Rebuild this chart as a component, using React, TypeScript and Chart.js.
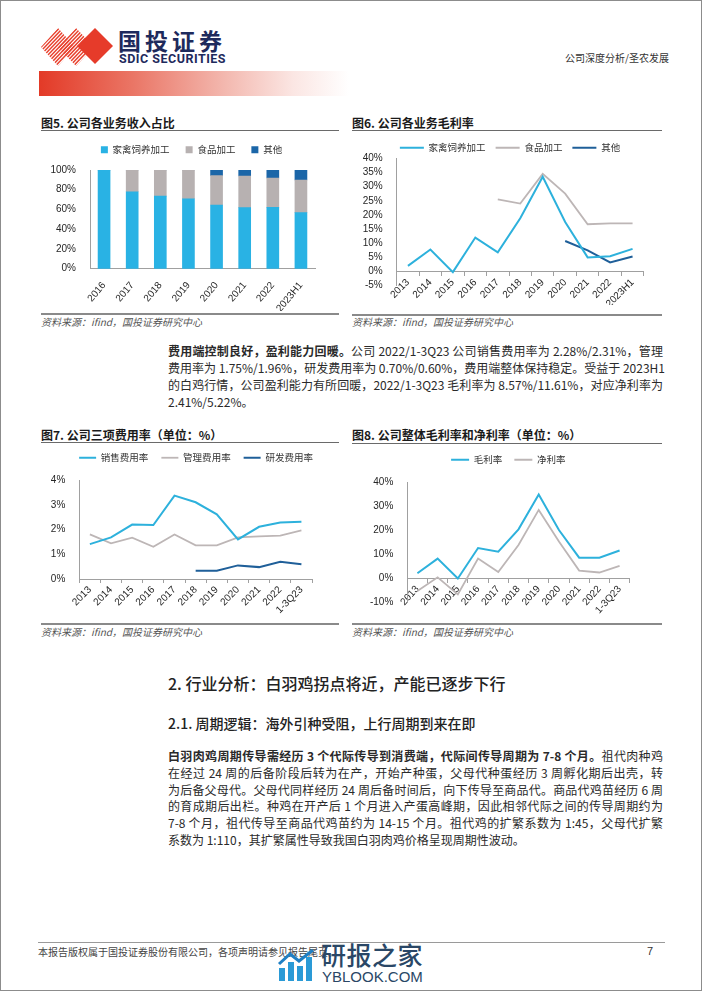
import React, { useEffect, useRef } from 'react';
import { Chart, registerables } from 'chart.js';

Chart.register(...registerables);

const CJK = "'Noto Sans CJK SC', 'Noto Sans', sans-serif";
const LATIN = "'Liberation Sans', Arial, sans-serif";
Chart.defaults.font.family = LATIN;

// ---------------- data ----------------
// Fig 5: revenue share by business (%)
const fig5Labels = ['2016', '2017', '2018', '2019', '2020', '2021', '2022', '2023H1'];
const fig5Poultry = [100, 78, 73.6, 70.9, 64.5, 61.8, 62.2, 56.8];
const fig5Food = [0, 22, 26.4, 29.1, 29.8, 32.1, 29.7, 33.1];
const fig5Other = [0, 0, 0, 0, 5.7, 6.1, 8.1, 10.1];

// Fig 6: gross margin by business (%)
const fig6Labels = ['2013', '2014', '2015', '2016', '2017', '2018', '2019', '2020', '2021', '2022', '2023H1'];
const fig6Poultry = [2, 7.8, -0.2, 12, 6.8, 18.8, 33.5, 17.5, 5, 5.4, 8];
const fig6Food = [null, null, null, null, 25.5, 24, 34.5, 27.5, 16.7, 17, 17];
const fig6Other = [null, null, null, null, null, null, null, 10.8, 7.5, 3.2, 5.3];

// Fig 7: expense ratios (%)
const fig7Labels = ['2013', '2014', '2015', '2016', '2017', '2018', '2019', '2020', '2021', '2022', '1-3Q23'];
const fig7Sales = [1.41, 1.68, 2.2, 2.18, 3.37, 3.1, 2.61, 1.6, 2.11, 2.28, 2.31];
const fig7Admin = [1.8, 1.44, 1.67, 1.3, 1.8, 1.36, 1.36, 1.68, 1.72, 1.75, 1.96];
const fig7RD = [null, null, null, null, null, 0.33, 0.33, 0.55, 0.48, 0.7, 0.6];

// Fig 8: gross & net margin (%)
const fig8Labels = ['2013', '2014', '2015', '2016', '2017', '2018', '2019', '2020', '2021', '2022', '1-3Q23'];
const fig8Gross = [2.1, 8.2, -0.1, 12.6, 11.1, 20.4, 34.9, 20.1, 8.6, 8.57, 11.61];
const fig8Net = [-5.3, 0.4, -6.7, 8.2, 2.6, 13.9, 28.5, 15.3, 3.2, 2.41, 5.22];

// ---------------- styles ----------------
const LIGHT_BLUE = '#29B2E4';
const LINE_BLUE = '#2DB1DC';
const BAR_GRAY = '#B7B1B1';
const LINE_GRAY = '#BDB6B6';
const DARK_BLUE = '#1B66A8';
const LINE_DARK = '#1F5F99';
const AXIS_COLOR = '#A0A0A0';
const TICK_COLOR = '#262626';
const TICK_FONT = { family: LATIN, size: 10 };
const LEGEND_FONT = { family: CJK, size: 9.5 };

function legendTweak(gap: number, dx: number) {
  return {
    id: 'legendTweak',
    beforeUpdate(chart: any) {
      const lg = chart.legend;
      if (lg && !lg.__tweaked) {
        const fit = lg.fit;
        lg.fit = function () {
          fit.call(this);
          this.height += gap;
        };
        lg.__tweaked = true;
      }
    },
    afterLayout(chart: any) {
      const lg = chart.legend;
      if (lg) {
        lg.left += dx;
        lg.right += dx;
      }
    },
  };
}

const pct = (v: any) => v + '%';

function yAxis(min: number, max: number, step: number, width: number) {
  return {
    min,
    max,
    grid: { display: false },
    border: { display: true, color: AXIS_COLOR, width: 1 },
    ticks: { stepSize: step, autoSkip: false, callback: pct, font: TICK_FONT, color: TICK_COLOR, padding: 6 },
    afterFit: (s: any) => {
      s.width = width;
    },
  };
}

function xCatAxis(rotation: number, extra: any) {
  return {
    type: 'category',
    offset: true,
    grid: { display: true, drawOnChartArea: false, drawTicks: true, tickLength: 4, offset: true, color: AXIS_COLOR },
    border: { display: true, color: AXIS_COLOR, width: 1 },
    ticks: { font: TICK_FONT, color: TICK_COLOR, minRotation: rotation, maxRotation: rotation, autoSkip: false, padding: 1 },
    ...extra,
  };
}

function lineDs(label: string, data: any[], color: string, width = 2) {
  return {
    label,
    data,
    borderColor: color,
    backgroundColor: color,
    borderWidth: width,
    pointRadius: 0,
    tension: 0,
    fill: false,
  };
}

function lineLegend(pointStyleWidth: number, padding: number) {
  return {
    position: 'top',
    labels: {
      usePointStyle: true,
      pointStyle: 'line',
      pointStyleWidth,
      padding,
      font: LEGEND_FONT,
      color: '#333',
    },
  };
}

const makeFig5 = () => ({
  type: 'bar',
  data: {
    labels: fig5Labels,
    datasets: [
      { label: '家禽饲养加工', data: fig5Poultry, backgroundColor: LIGHT_BLUE, barThickness: 12 },
      { label: '食品加工', data: fig5Food, backgroundColor: BAR_GRAY, barThickness: 12 },
      { label: '其他', data: fig5Other, backgroundColor: DARK_BLUE, barThickness: 12 },
    ],
  },
  options: {
    responsive: false,
    animation: false,
    layout: { padding: { top: 0, left: 0, right: 25, bottom: 0 } },
    plugins: {
      legend: {
        position: 'top',
        labels: { boxWidth: 7, boxHeight: 7, padding: 16, font: LEGEND_FONT, color: '#333' },
      },
      tooltip: { enabled: false },
    },
    scales: {
      x: {
        stacked: true,
        grid: { display: false },
        border: { display: true, color: AXIS_COLOR, width: 1 },
        ticks: { font: TICK_FONT, color: TICK_COLOR, minRotation: 50, maxRotation: 50, autoSkip: false, padding: 3 },
        afterFit: (s: any) => {
          s.height = 42.3;
        },
      },
      y: { ...yAxis(0, 100, 20, 50), stacked: true },
    },
  },
  plugins: [legendTweak(5.5, 14)],
});

const makeFig6 = () => ({
  type: 'line',
  data: {
    labels: fig6Labels,
    datasets: [
      lineDs('家禽饲养加工', fig6Poultry, LINE_BLUE),
      lineDs('食品加工', fig6Food, LINE_GRAY, 1.8),
      lineDs('其他', fig6Other, LINE_DARK),
    ],
  },
  options: {
    responsive: false,
    animation: false,
    layout: { padding: { top: 0, left: 0, right: 21.2, bottom: 19.3 } },
    plugins: { legend: lineLegend(24, 10), tooltip: { enabled: false } },
    scales: {
      x: xCatAxis(45, { position: { y: 0 } }),
      y: yAxis(-5, 40, 5, 41.7),
    },
  },
  plugins: [legendTweak(-4.2, 10.6)],
});

const makeFig7 = () => ({
  type: 'line',
  data: {
    labels: fig7Labels,
    datasets: [
      lineDs('销售费用率', fig7Sales, LINE_BLUE),
      lineDs('管理费用率', fig7Admin, LINE_GRAY, 1.8),
      lineDs('研发费用率', fig7RD, LINE_DARK),
    ],
  },
  options: {
    responsive: false,
    animation: false,
    layout: { padding: { top: 0, left: 0, right: 28, bottom: 0 } },
    plugins: { legend: lineLegend(17, 13), tooltip: { enabled: false } },
    scales: {
      x: xCatAxis(45, {
        afterFit: (s: any) => {
          s.height = 39;
        },
      }),
      y: yAxis(0, 4, 1, 39.3),
    },
  },
  plugins: [legendTweak(7.5, 20)],
});

const makeFig8 = () => ({
  type: 'line',
  data: {
    labels: fig8Labels,
    datasets: [lineDs('毛利率', fig8Gross, LINE_BLUE), lineDs('净利率', fig8Net, LINE_GRAY, 1.8)],
  },
  options: {
    responsive: false,
    animation: false,
    layout: { padding: { top: 0, left: 0, right: 35.3, bottom: 19.7 } },
    plugins: { legend: lineLegend(18, 12), tooltip: { enabled: false } },
    scales: {
      x: xCatAxis(48, { position: { y: 0 } }),
      y: yAxis(-10, 40, 10, 52.3),
    },
  },
  plugins: [legendTweak(7.8, 16)],
});

function ChartBox({ x, y, w, h, make }: { x: number; y: number; w: number; h: number; make: () => any }) {
  const ref = useRef<HTMLCanvasElement>(null);
  useEffect(() => {
    const chart = new Chart(ref.current as HTMLCanvasElement, make());
    return () => chart.destroy();
  }, []);
  return (
    <canvas
      ref={ref}
      width={w}
      height={h}
      style={{ position: 'absolute', left: x, top: y, width: w, height: h }}
    />
  );
}

function Txt({ x, y, size, children, style }: { x: number; y: number; size: number; children: any; style?: any }) {
  const lh = Math.round(size * 1.5);
  return (
    <div
      style={{
        position: 'absolute',
        left: x,
        top: y - lh / 2,
        fontSize: size,
        lineHeight: lh + 'px',
        whiteSpace: 'nowrap',
        fontFamily: CJK,
        color: '#222',
        ...style,
      }}
    >
      {children}
    </div>
  );
}

function HLine({ x, y, w, h, color }: { x: number; y: number; w: number; h: number; color: string }) {
  return <div style={{ position: 'absolute', left: x, top: y - h / 2, width: w, height: h, background: color }} />;
}

function FigFrame({ x, w, titleY, lineY, bottomY, srcY, title }: any) {
  return (
    <>
      <Txt x={x} y={titleY} size={12} style={{ fontWeight: 700, color: '#1a1a1a' }}>
        {title}
      </Txt>
      <HLine x={x} y={lineY} w={w} h={1} color="#6a6a6a" />
      <HLine x={x} y={bottomY} w={w} h={2} color="#8a8a8a" />
      <Txt x={x} y={srcY} size={10} style={{ fontStyle: 'italic', color: '#555' }}>
        资料来源：ifind，国投证券研究中心
      </Txt>
    </>
  );
}

function ParaLine({ y, last, children }: { y: number; last?: boolean; children: any }) {
  return (
    <div
      style={{
        position: 'absolute',
        left: 168,
        top: y - 9,
        width: 495,
        height: 18,
        lineHeight: '18px',
        fontSize: 12,
        fontFamily: CJK,
        color: '#2a2a2a',
        whiteSpace: 'nowrap',
        textAlign: 'justify',
        textAlignLast: last ? 'left' : 'justify',
      }}
    >
      {children}
    </div>
  );
}

const para1 = [
  <>
    <b>费用端控制良好，盈利能力回暖。</b>公司 2022/1-3Q23 公司销售费用率为 2.28%/2.31%，管理
  </>,
  <>费用率为 1.75%/1.96%，研发费用率为 0.70%/0.60%，费用端整体保持稳定。受益于 2023H1</>,
  <>的白鸡行情，公司盈利能力有所回暖，2022/1-3Q23 毛利率为 8.57%/11.61%，对应净利率为</>,
  <>2.41%/5.22%。</>,
];

const para2 = [
  <>
    <b>白羽肉鸡周期传导需经历 3 个代际传导到消费端，代际间传导周期为 7-8 个月。</b>祖代肉种鸡
  </>,
  <>在经过 24 周的后备阶段后转为在产，开始产种蛋，父母代种蛋经历 3 周孵化期后出壳，转</>,
  <>为后备父母代。父母代同样经历 24 周后备时间后，向下传导至商品代。商品代鸡苗经历 6 周</>,
  <>的育成期后出栏。种鸡在开产后 1 个月进入产蛋高峰期，因此相邻代际之间的传导周期约为</>,
  <>7-8 个月，祖代传导至商品代鸡苗约为 14-15 个月。祖代鸡的扩繁系数为 1:45，父母代扩繁</>,
  <>系数为 1:110，其扩繁属性导致我国白羽肉鸡价格呈现周期性波动。</>,
];

function Logo() {
  const stripes: any[] = [];
  for (let i = -20; i < 40; i++) {
    const x0 = 30 + i * 3.6;
    stripes.push(<line key={i} x1={x0} y1={70} x2={x0 + 44} y2={24} stroke="#E8402D" strokeWidth={1.5} />);
  }
  return (
    <svg width={80} height={48} viewBox="38 22 80 48" style={{ position: 'absolute', left: 38, top: 22 }}>
      <defs>
        <clipPath id="dA">
          <polygon points="41,47 58,28 75,47 58,66" />
        </clipPath>
        <clipPath id="dB">
          <polygon points="58,47 76,28 94,47 76,66" />
        </clipPath>
      </defs>
      <g clipPath="url(#dA)">{stripes}</g>
      <g clipPath="url(#dB)">{stripes}</g>
      <polygon points="77,46 95,28 113,46 95,64" fill="#E63B2A" />
    </svg>
  );
}

function Watermark() {
  return (
    <>
      <svg width={42} height={34} style={{ position: 'absolute', left: 277, top: 948 }}>
        <rect x={2} y={20} width={6} height={13} fill="#2A9AD6" />
        <rect x={11} y={14} width={6} height={19} fill="#2A9AD6" />
        <rect x={20} y={18} width={6} height={15} fill="#2A9AD6" />
        <rect x={29} y={9} width={6} height={24} fill="#2A9AD6" />
        <polyline points="2,16 13,6 22,13 36,2" fill="none" stroke="#1F7FC4" strokeWidth={3} />
      </svg>
      <Txt x={321} y={954} size={25} style={{ color: '#2A4766', fontWeight: 500, letterSpacing: 0.5 }}>
        研报之家
      </Txt>
      <Txt x={322} y={976} size={15} style={{ color: '#2A4766', fontFamily: LATIN }}>
        YBLOOK.COM
      </Txt>
    </>
  );
}

export default function App() {
  return (
    <div
      style={{
        position: 'absolute',
        left: 0,
        top: 0,
        width: 702,
        height: 991,
        background: '#fff',
        overflow: 'hidden',
        fontFamily: CJK,
      }}
    >
      <div
        style={{
          position: 'absolute',
          left: 0,
          top: 0,
          width: 702,
          height: 991,
          boxSizing: 'border-box',
          border: '1px solid #8c8c8c',
        }}
      />
      {/* header */}
      <Logo />
      <Txt x={118} y={40} size={23} style={{ fontWeight: 700, color: '#1E2A5C', letterSpacing: 4 }}>
        国投证券
      </Txt>
      <Txt
        x={119}
        y={58.5}
        size={12.5}
        style={{ fontFamily: "'Roboto', sans-serif", fontWeight: 700, color: '#1E2A5C', letterSpacing: 0.5 }}
      >
        SDIC SECURITIES
      </Txt>
      <Txt x={565} y={57} size={10} style={{ color: '#333' }}>
        公司深度分析/圣农发展
      </Txt>
      <div
        style={{
          position: 'absolute',
          left: 39,
          top: 71,
          width: 310,
          height: 25,
          background: 'linear-gradient(to right, #E33A27 0%, #EA7565 30%, #F3B8AF 60%, #FBE6E3 82%, #FFFFFF 100%)',
        }}
      />

      {/* figure frames */}
      <FigFrame x={41} w={298} titleY={122.5} lineY={130.5} bottomY={314} srcY={321} title="图5. 公司各业务收入占比" />
      <FigFrame x={352} w={310} titleY={122.5} lineY={130.5} bottomY={315} srcY={321} title="图6. 公司各业务毛利率" />
      <FigFrame x={41} w={298} titleY={435} lineY={442.5} bottomY={624} srcY={631} title="图7. 公司三项费用率（单位：%）" />
      <FigFrame x={352} w={310} titleY={435} lineY={443} bottomY={624} srcY={631} title="图8. 公司整体毛利率和净利率（单位：%）" />

      <ChartBox x={40} y={129} w={300} h={182} make={makeFig5} />
      <ChartBox x={355} y={133} w={310} h={172} make={makeFig6} />
      <ChartBox x={40} y={440} w={300} h={178} make={makeFig7} />
      <ChartBox x={355} y={443} w={310} h={179} make={makeFig8} />

      {/* paragraph 1 */}
      {para1.map((c, i) => (
        <ParaLine key={'p1' + i} y={351 + i * 17} last={i === para1.length - 1}>
          {c}
        </ParaLine>
      ))}

      {/* section headings */}
      <Txt x={168} y={683} size={16} style={{ fontWeight: 500, color: '#222' }}>
        2. 行业分析：白羽鸡拐点将近，产能已逐步下行
      </Txt>
      <Txt x={168} y={723} size={14} style={{ fontWeight: 500, color: '#222' }}>
        2.1. 周期逻辑：海外引种受阻，上行周期到来在即
      </Txt>

      {/* paragraph 2 */}
      {para2.map((c, i) => (
        <ParaLine key={'p2' + i} y={756 + i * 16.8} last={i === para2.length - 1}>
          {c}
        </ParaLine>
      ))}

      {/* footer */}
      <HLine x={38} y={942} w={627} h={1} color="#9a9a9a" />
      <Txt x={38} y={951} size={10} style={{ color: '#444' }}>
        本报告版权属于国投证券股份有限公司，各项声明请参见报告尾页。
      </Txt>
      <Txt x={647} y={951} size={11} style={{ color: '#333', fontFamily: LATIN }}>
        7
      </Txt>
      <Watermark />
    </div>
  );
}
